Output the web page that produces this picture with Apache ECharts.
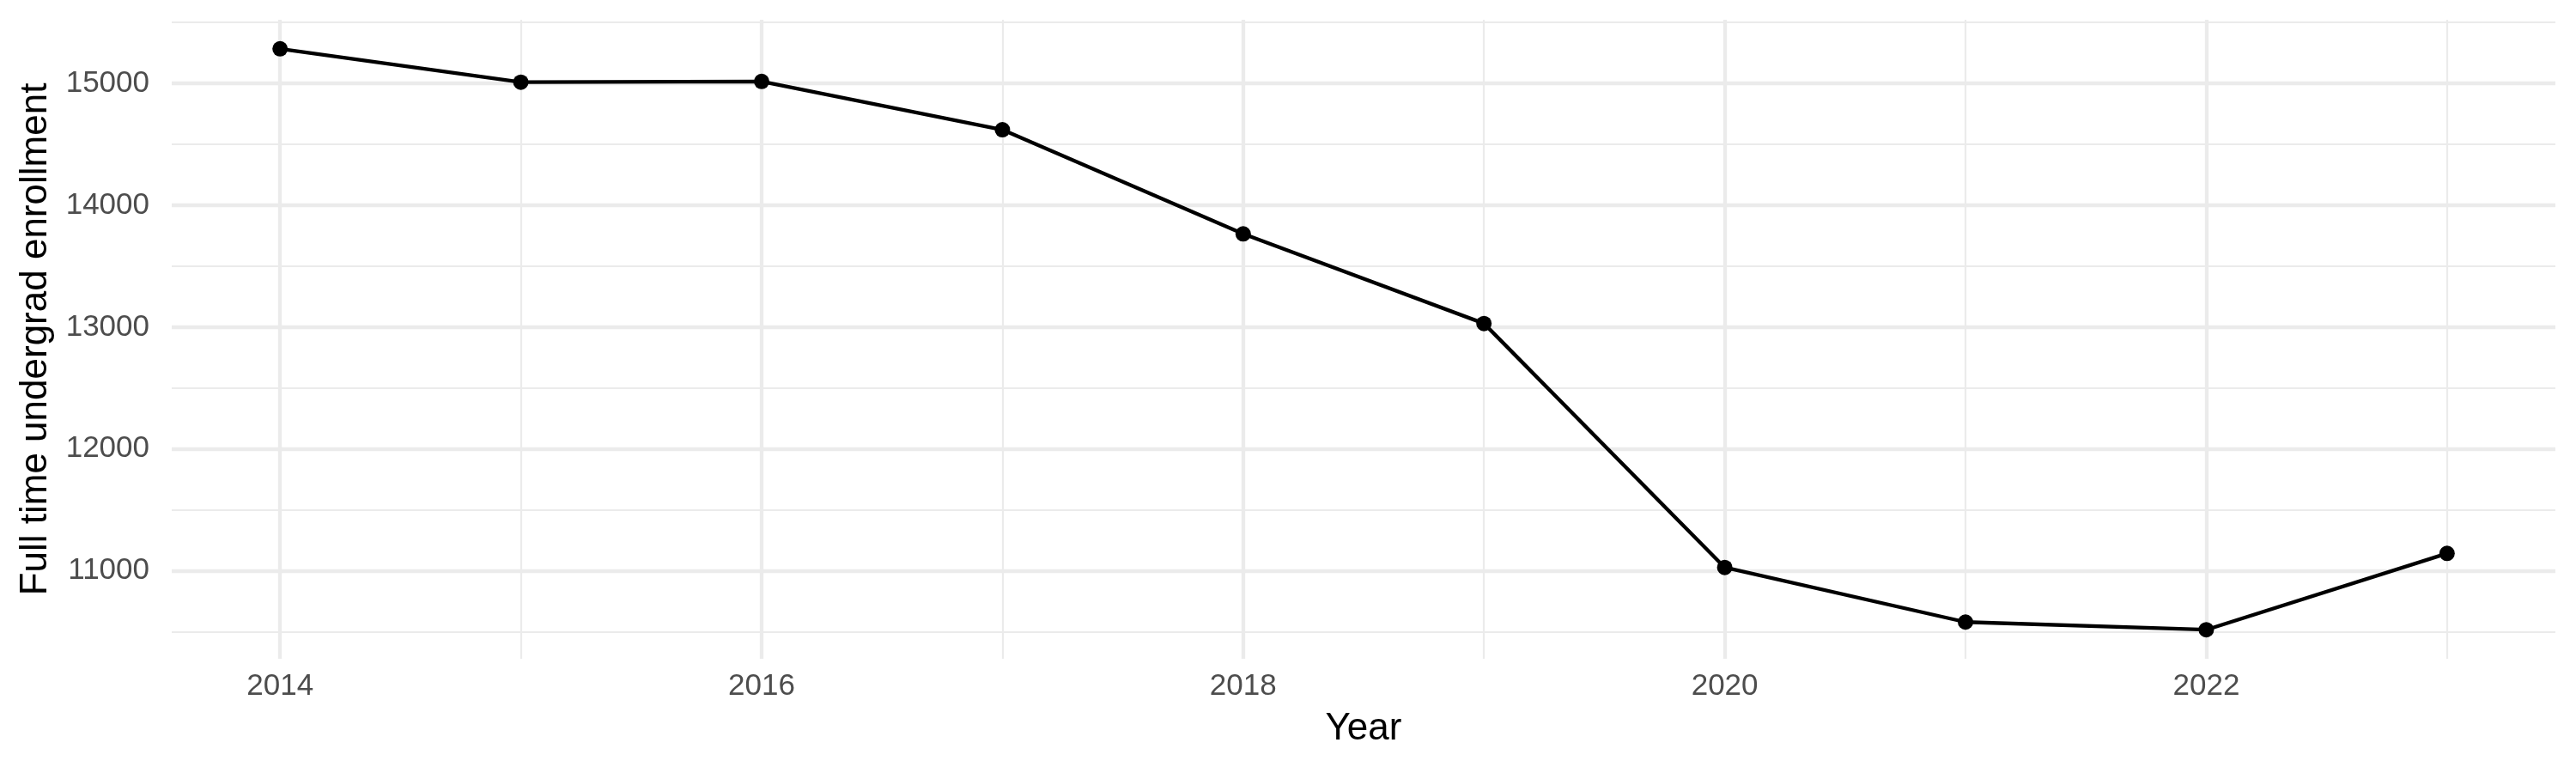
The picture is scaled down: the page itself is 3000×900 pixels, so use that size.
<!DOCTYPE html>
<html>
<head>
<meta charset="utf-8">
<script src="https://cdn.jsdelivr.net/npm/echarts@6/dist/echarts.min.js"></script>
<style>
html,body{margin:0;padding:0;background:#fff;}
#chart{width:3000px;height:900px;}
</style>
</head>
<body>
<div id="chart"></div>
<script>
const years = [2014, 2015, 2016, 2017, 2018, 2019, 2020, 2021, 2022, 2023];
const enrollment = [15284, 15010, 15016, 14620, 13765, 13030, 11028, 10580, 10517, 11143];
const xMajorTicks = [2014, 2016, 2018, 2020, 2022];
const xMinorTicks = [2015, 2017, 2019, 2021, 2023];
const yMajorTicks = [11000, 12000, 13000, 14000, 15000];
const yMinorTicks = [10500, 11500, 12500, 13500, 14500, 15500];
const xTitle = 'Year';
const yTitle = 'Full time undergrad enrollment';

const yMaxD = Math.max(...enrollment), yMinD = Math.min(...enrollment);
const yPad = (yMaxD - yMinD) * 0.05;
const xPad = (years[years.length - 1] - years[0]) * 0.05;
const xMin = years[0] - xPad, xMax = years[years.length - 1] + xPad;
const yMin = yMinD - yPad, yMax = yMaxD + yPad;

const FONT = 'Liberation Sans';
const GRID = '#EBEBEB';

const chart = echarts.init(document.getElementById('chart'), null, {renderer: 'canvas'});
chart.setOption({
  backgroundColor: '#ffffff',
  animation: false,
  grid: {left: 200, right: 24, top: 23, bottom: 133, containLabel: false},
  xAxis: [
    {
      type: 'value', min: xMin, max: xMax, position: 'bottom',
      name: xTitle, nameLocation: 'middle', nameGap: 60,
      nameTextStyle: {fontFamily: FONT, fontSize: 44, color: '#000000'},
      axisLine: {show: false}, axisTick: {show: false, customValues: xMajorTicks},
      axisLabel: {customValues: xMajorTicks, fontFamily: FONT, fontSize: 35, color: '#4D4D4D', margin: 15,
                  formatter: v => String(Math.round(v))},
      splitLine: {show: true, lineStyle: {color: GRID, width: 4.3}}
    },
    {
      type: 'value', min: xMin, max: xMax, position: 'bottom',
      axisLine: {show: false}, axisTick: {show: false, customValues: xMinorTicks},
      axisLabel: {show: false, customValues: xMinorTicks},
      splitLine: {show: true, lineStyle: {color: GRID, width: 2.2}}
    }
  ],
  yAxis: [
    {
      type: 'value', min: yMin, max: yMax,
      name: yTitle, nameLocation: 'middle', nameGap: 136,
      nameTextStyle: {fontFamily: FONT, fontSize: 44, color: '#000000'},
      axisLine: {show: false}, axisTick: {show: false, customValues: yMajorTicks},
      axisLabel: {customValues: yMajorTicks, fontFamily: FONT, fontSize: 35, color: '#4D4D4D', margin: 26,
                  formatter: v => String(Math.round(v))},
      splitLine: {show: true, lineStyle: {color: GRID, width: 4.3}}
    },
    {
      type: 'value', min: yMin, max: yMax,
      axisLine: {show: false}, axisTick: {show: false, customValues: yMinorTicks},
      axisLabel: {show: false, customValues: yMinorTicks},
      splitLine: {show: true, lineStyle: {color: GRID, width: 2.2}}
    }
  ],
  series: [{
    type: 'line',
    xAxisIndex: 0, yAxisIndex: 0,
    data: years.map((y, i) => [y, enrollment[i]]),
    symbol: 'circle', symbolSize: 18,
    lineStyle: {color: '#000000', width: 4.3},
    itemStyle: {color: '#000000'},
    z: 5
  }]
});
</script>
</body>
</html>
